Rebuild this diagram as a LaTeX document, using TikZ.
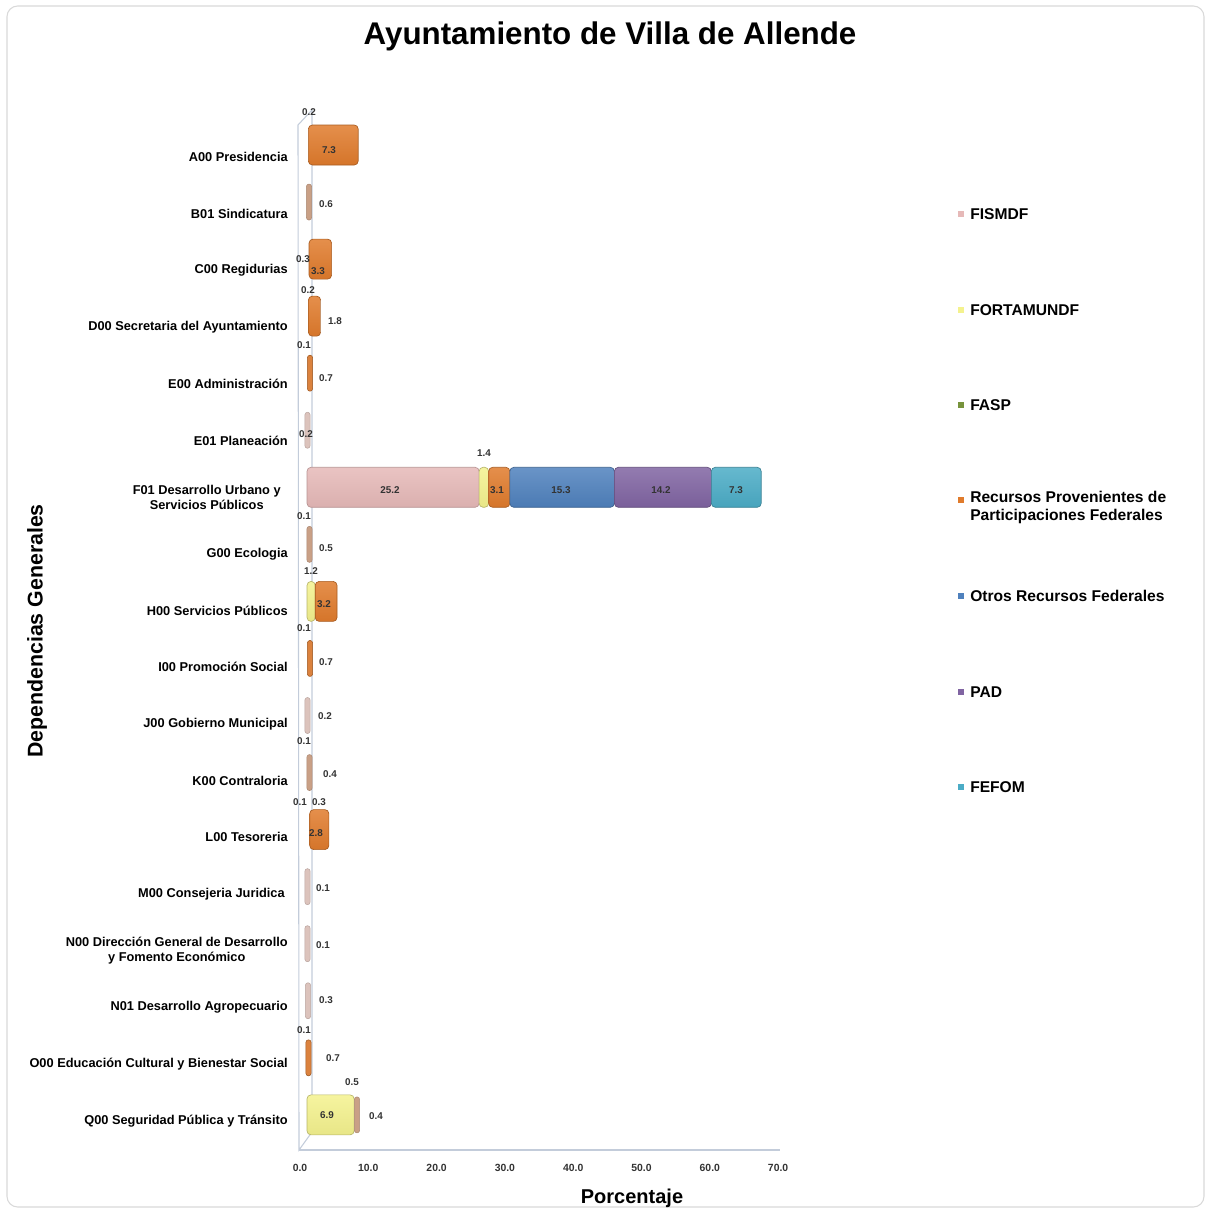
\documentclass[tikz,border=0pt]{standalone}
\usepackage{fontspec}
\setmainfont{Liberation Sans}
\definecolor{fisc}{HTML}{E6B9B8}
\definecolor{fortc}{HTML}{F4F28E}
\definecolor{faspc}{HTML}{77933C}
\definecolor{recc}{HTML}{E07B2C}
\definecolor{otrc}{HTML}{4F81BD}
\definecolor{padc}{HTML}{8064A2}
\definecolor{fefc}{HTML}{4BACC6}
\definecolor{tanc}{HTML}{C9A086}
\definecolor{pgc}{HTML}{DCC3BC}
\definecolor{wallc}{HTML}{C3CCDA}
\newcommand\mySeg[4]{\draw[#4] ({307+#1*6.83},{145+57.05*#3-20}) rectangle ({307+#2*6.83},{145+57.05*#3+20});}
\newcommand\myThin[3]{\draw[#3,thinbar] ({#1-2.6},{145+57.05*#2-18}) rectangle ({#1+2.6},{145+57.05*#2+18});}
\begin{document}
\begin{tikzpicture}[x=0.75pt,y=-0.75pt,
  segbase/.style={rounded corners=3pt,line width=0.5pt},
  thinbar/.style={rounded corners=1.9pt,line width=0.4pt},
  fis/.style={segbase,top color=fisc!85!white,middle color=fisc,bottom color=fisc!95!black,draw=fisc!80!black},
  fort/.style={segbase,top color=fortc!85!white,middle color=fortc,bottom color=fortc!95!black,draw=fortc!75!black},
  rec/.style={segbase,top color=recc!85!white,middle color=recc,bottom color=recc!95!black,draw=recc!75!black},
  otr/.style={segbase,top color=otrc!85!white,middle color=otrc,bottom color=otrc!95!black,draw=otrc!75!black},
  pad/.style={segbase,top color=padc!85!white,middle color=padc,bottom color=padc!95!black,draw=padc!75!black},
  fef/.style={segbase,top color=fefc!85!white,middle color=fefc,bottom color=fefc!95!black,draw=fefc!75!black},
  tanbar/.style={fill=tanc,draw=tanc!85!black},
  pgbar/.style={fill=pgc,draw=pgc!85!black},
  orbar/.style={fill=recc!80!tanc,draw=recc!70!black},
  wall/.style={draw=wallc,line width=0.8pt},
  catlab/.style={font=\bfseries\fontsize{9.6}{11.5}\selectfont,anchor=east,align=center,inner sep=0pt},
  vallab/.style={font=\bfseries\fontsize{7.4}{8.5}\selectfont,text=black!80,inner sep=0pt},
  ticklab/.style={font=\bfseries\fontsize{7.8}{9}\selectfont,text=black!80,inner sep=0pt},
  legtxt/.style={font=\bfseries\fontsize{11.7}{13.5}\selectfont,anchor=west,align=left,inner sep=0pt},
  legmark/.style={minimum size=5pt,inner sep=0pt,draw=none}
]
\useasboundingbox (0,0) rectangle (1207,1210);
\draw[black!15,line width=0.8pt,rounded corners=8pt] (7,6) rectangle (1204,1207);

% title
\node[font=\bfseries\fontsize{23.5}{26}\selectfont] (title) at (610,36) {Ayuntamiento de Villa de Allende};

% walls / axes
\coordinate (wft) at (298,125);
\coordinate (wbt) at (312,110);
\coordinate (wfb) at (299,1150);
\coordinate (wbb) at (312,1132);
\coordinate (axr) at (780,1150);
\draw[wall] (wft) -- (wfb) -- (wbb) -- (wbt) -- cycle;
\draw[wall] (wfb) -- (axr);

% tick labels
\foreach \k/\t in {0/0.0,1/10.0,2/20.0,3/30.0,4/40.0,5/50.0,6/60.0,7/70.0}
  \node[ticklab] (tick\k) at ({300+\k*68.3},1168) {\t};

% axis titles
\node[font=\bfseries\fontsize{15}{17}\selectfont] (xtitle) at (632,1198) {Porcentaje};
\node[font=\bfseries\fontsize{16}{17}\selectfont,rotate=90] (ytitle) at (37,631) {Dependencias Generales};

% category labels
\node[catlab] (c0) at (288,{157+56.7*0}) {A00 Presidencia};
\node[catlab] (c1) at (288,{157+56.7*1}) {B01 Sindicatura};
\node[catlab] (c2) at (288,{157+56.7*2}) {C00 Regidurias};
\node[catlab] (c3) at (288,{157+56.7*3}) {D00 Secretaria del Ayuntamiento};
\node[catlab] (c4) at (288,{157+56.7*4}) {E00 Administración};
\node[catlab] (c5) at (288,{157+56.7*5}) {E01 Planeación};
\node[catlab] (c6) at (281,{157+56.7*6}) {F01 Desarrollo Urbano y\\Servicios Públicos};
\node[catlab] (c7) at (288,{157+56.7*7}) {G00 Ecologia};
\node[catlab] (c8) at (288,{157+56.7*8}) {H00 Servicios Públicos};
\node[catlab] (c9) at (288,{157+56.7*9}) {I00 Promoción Social};
\node[catlab] (c10) at (288,{157+56.7*10}) {J00 Gobierno Municipal};
\node[catlab] (c11) at (288,{157+56.7*11}) {K00 Contraloria};
\node[catlab] (c12) at (288,{157+56.7*12}) {L00 Tesoreria};
\node[catlab] (c13) at (285,{157+56.7*13}) {M00 Consejeria Juridica};
\node[catlab] (c14) at (288,{157+56.7*14}) {N00 Dirección General de Desarrollo\\y Fomento Económico};
\node[catlab] (c15) at (288,{157+56.7*15}) {N01 Desarrollo Agropecuario};
\node[catlab] (c16) at (288,{157+56.7*16}) {O00 Educación Cultural y Bienestar Social};
\node[catlab] (c17) at (288,{157+56.7*17}) {Q00 Seguridad Pública y Tránsito};

% bars
\mySeg{0.2}{7.5}{0}{rec}
\myThin{309}{1}{tanbar}
\mySeg{0.3}{3.6}{2}{rec}
\mySeg{0.2}{2.0}{3}{rec}
\myThin{310}{4}{orbar}
\myThin{307.5}{5}{pgbar}
\mySeg{0}{25.2}{6}{fis}
\mySeg{25.2}{26.6}{6}{fort}
\mySeg{26.6}{29.7}{6}{rec}
\mySeg{29.7}{45.0}{6}{otr}
\mySeg{45.0}{59.2}{6}{pad}
\mySeg{59.2}{66.5}{6}{fef}
\myThin{309.5}{7}{tanbar}
\mySeg{0}{1.2}{8}{fort}
\mySeg{1.2}{4.4}{8}{rec}
\myThin{310}{9}{orbar}
\myThin{307.5}{10}{pgbar}
\myThin{309.5}{11}{tanbar}
\mySeg{0.4}{3.2}{12}{rec}
\myThin{307.5}{13}{pgbar}
\myThin{307.5}{14}{pgbar}
\myThin{308}{15}{pgbar}
\myThin{308.5}{16}{orbar}
\mySeg{0}{6.9}{17}{fort}
\myThin{357}{17}{tanbar}

% value labels
\node[vallab] (v0a) at (309,112) {0.2};
\node[vallab] (v0b) at (329,150) {7.3};
\node[vallab] (v1a) at (326,204) {0.6};
\node[vallab] (v2a) at (303,259) {0.3};
\node[vallab] (v2b) at (318,271) {3.3};
\node[vallab] (v3a) at (308,290) {0.2};
\node[vallab] (v3b) at (335,321) {1.8};
\node[vallab] (v4a) at (304,345) {0.1};
\node[vallab] (v4b) at (326,378) {0.7};
\node[vallab] (v5a) at (306,434) {0.2};
\node[vallab] (v6a) at (390,490) {25.2};
\node[vallab] (v6b) at (484,453) {1.4};
\node[vallab] (v6c) at (497,490) {3.1};
\node[vallab] (v6d) at (561,490) {15.3};
\node[vallab] (v6e) at (661,490) {14.2};
\node[vallab] (v6f) at (736,490) {7.3};
\node[vallab] (v7a) at (304,516) {0.1};
\node[vallab] (v7b) at (326,548) {0.5};
\node[vallab] (v8a) at (311,571) {1.2};
\node[vallab] (v8b) at (324,604) {3.2};
\node[vallab] (v9a) at (304,628) {0.1};
\node[vallab] (v9b) at (326,662) {0.7};
\node[vallab] (v10a) at (325,716) {0.2};
\node[vallab] (v11a) at (304,741) {0.1};
\node[vallab] (v11b) at (330,774) {0.4};
\node[vallab] (v12a) at (300,802) {0.1};
\node[vallab] (v12b) at (319,802) {0.3};
\node[vallab] (v12c) at (316,833) {2.8};
\node[vallab] (v13a) at (323,888) {0.1};
\node[vallab] (v14a) at (323,945) {0.1};
\node[vallab] (v15a) at (326,1000) {0.3};
\node[vallab] (v16a) at (304,1030) {0.1};
\node[vallab] (v16b) at (333,1058) {0.7};
\node[vallab] (v17a) at (327,1115) {6.9};
\node[vallab] (v17b) at (352,1082) {0.5};
\node[vallab] (v17c) at (376,1116) {0.4};

% legend
\node[legmark,fill=fisc] (m1) at (961,214) {};
\node[legtxt] (l1) at (970,214) {FISMDF};
\node[legmark,fill=fortc] (m2) at (961,310) {};
\node[legtxt] (l2) at (970,310) {FORTAMUNDF};
\node[legmark,fill=faspc] (m3) at (961,405) {};
\node[legtxt] (l3) at (970,405) {FASP};
\node[legmark,fill=recc] (m4) at (961,500) {};
\node[legtxt,anchor=north west] (l4) at (970,491) {Recursos Provenientes de\\Participaciones Federales};
\node[legmark,fill=otrc] (m5) at (961,596) {};
\node[legtxt] (l5) at (970,596) {Otros Recursos Federales};
\node[legmark,fill=padc] (m6) at (961,692) {};
\node[legtxt] (l6) at (970,692) {PAD};
\node[legmark,fill=fefc] (m7) at (961,787) {};
\node[legtxt] (l7) at (970,787) {FEFOM};
\end{tikzpicture}
\end{document}
